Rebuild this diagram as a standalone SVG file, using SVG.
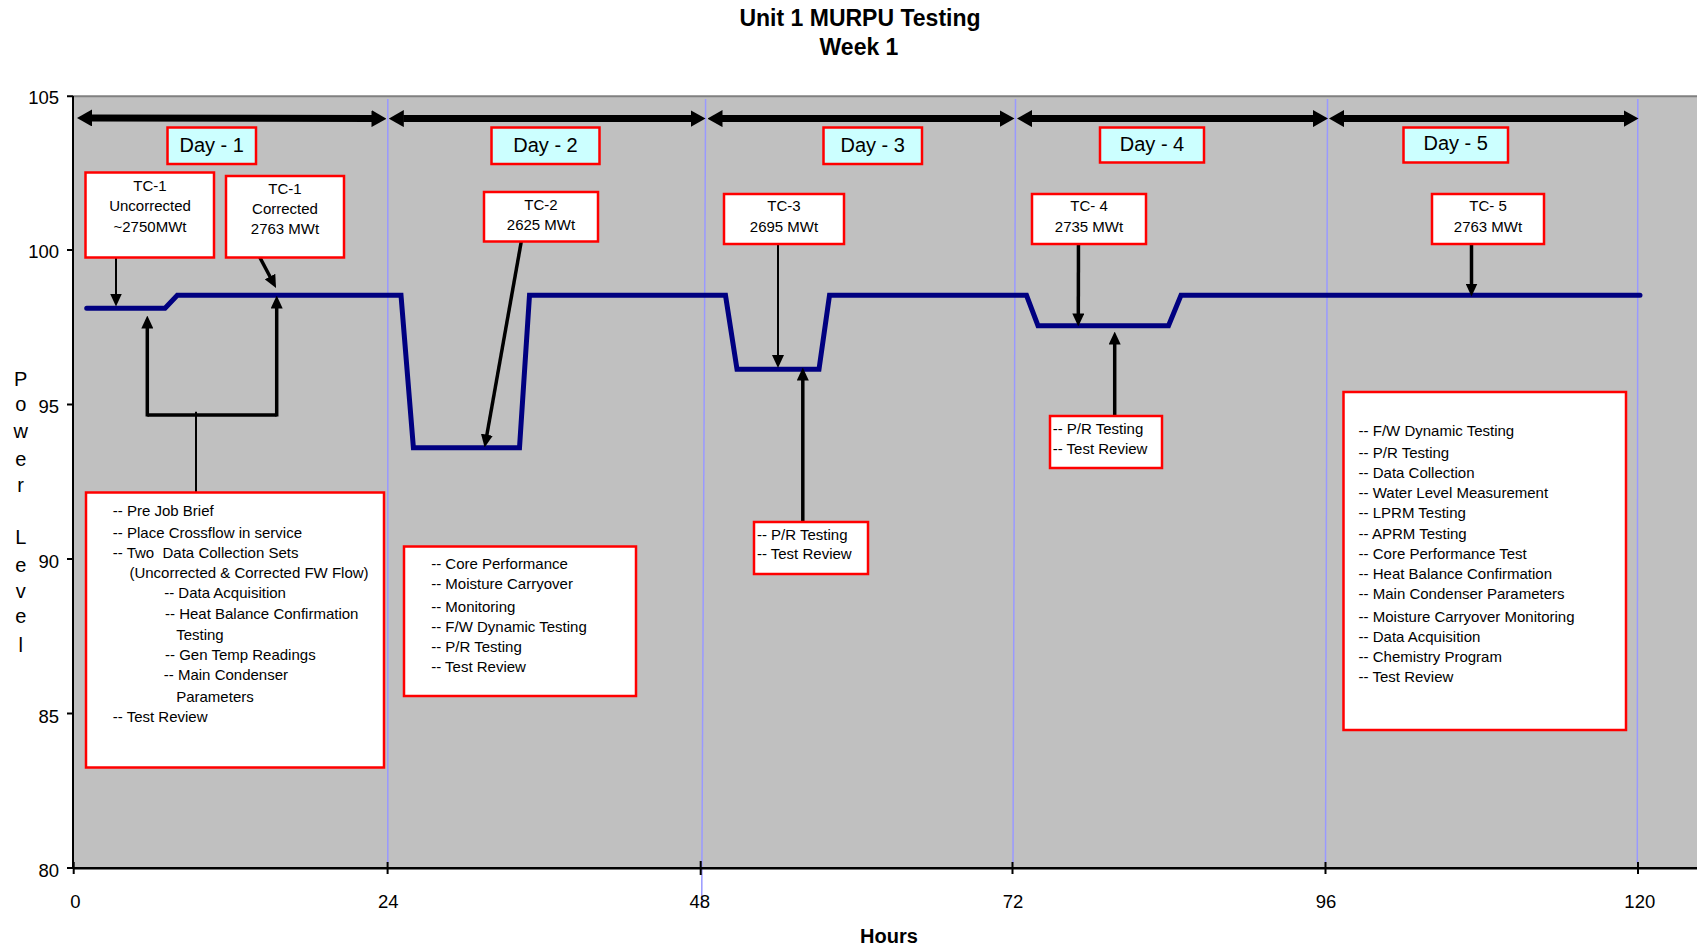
<svg xmlns="http://www.w3.org/2000/svg" width="1697" height="947" viewBox="0 0 1697 947">
<style>
text{font-family:"Liberation Sans",Arial,sans-serif;fill:#000}
.t{font-size:15px}
.c{text-anchor:middle}
.r{text-anchor:end}
.tick{font-size:18.5px}
.ttl{font-size:23px;font-weight:bold}
.dayt{font-size:20px}
.ylab{font-size:20px}
.box{fill:#fff;stroke:#f00;stroke-width:2.5}
.dbox{fill:#ccffff;stroke:#f00;stroke-width:2.5}
.grid{stroke:#9999ff;stroke-width:1.5;fill:none}
.ax{stroke:#000;stroke-width:2;fill:none}
.dbl{stroke:#000;stroke-width:7;fill:none;marker-start:url(#big);marker-end:url(#big)}
.thin{stroke:#000;stroke-width:2;fill:none}
.thick{stroke:#000;stroke-width:3.5;fill:none}
.arr{marker-end:url(#ah)}
</style>
<defs>
<marker id="big" markerUnits="userSpaceOnUse" markerWidth="15" markerHeight="17" viewBox="0 0 15 17" refX="0.5" refY="8.5" orient="auto-start-reverse"><path d="M0,0 L15,8.5 L0,17 z" fill="#000"/></marker>
<marker id="ah" markerUnits="userSpaceOnUse" markerWidth="13" markerHeight="12" viewBox="0 0 13 12" refX="0.5" refY="6" orient="auto"><path d="M0,0 L13,6 L0,12 z" fill="#000"/></marker>
</defs>
<rect width="1697" height="947" fill="#fff"/>
<g id="title">
<text class="ttl c" x="860" y="26">Unit 1 MURPU Testing</text>
<text class="ttl c" x="859" y="55">Week 1</text>
</g>
<g id="plot">
<rect x="73" y="96" width="1624" height="772" fill="#c0c0c0"/>
<line x1="73" y1="96.3" x2="1697" y2="96.3" stroke="#808080" stroke-width="2"/>
</g>
<g id="gridlines">
<line class="grid" x1="387.8" y1="99" x2="387.8" y2="863"/>
<line class="grid" x1="705.6" y1="99" x2="701.7" y2="908"/>
<line class="grid" x1="1015.5" y1="99" x2="1013" y2="863"/>
<line class="grid" x1="1327.5" y1="99" x2="1325.5" y2="863"/>
<line class="grid" x1="1637.8" y1="99" x2="1637.3" y2="863"/>
</g>
<g id="axes">
<line class="ax" x1="73" y1="96" x2="73" y2="869"/>
<line x1="73" y1="868.3" x2="1697" y2="868.3" stroke="#000" stroke-width="2.5"/>
<path class="ax" d="M67,96.3H73M67,250H73M67,404.5H73M67,559H73M67,713.5H73M67,868H73"/>
<path class="ax" d="M73.7,862V874M387.6,862V874M700.7,861V875M1012.5,862V874M1325.5,862V874M1638,862V874"/>
<text class="tick r" x="59" y="103.5">105</text>
<text class="tick r" x="59" y="258">100</text>
<text class="tick r" x="59" y="413">95</text>
<text class="tick r" x="59" y="567.5">90</text>
<text class="tick r" x="59" y="722.5">85</text>
<text class="tick r" x="59" y="877">80</text>
<text class="tick c" x="75.5" y="907.5">0</text>
<text class="tick c" x="388.3" y="907.5">24</text>
<text class="tick c" x="699.7" y="907.5">48</text>
<text class="tick c" x="1013" y="907.5">72</text>
<text class="tick c" x="1326" y="907.5">96</text>
<text class="tick c" x="1639.8" y="907.5">120</text>
<text class="c" x="889" y="943" font-size="20" font-weight="bold">Hours</text>
<g class="ylab">
<text class="c" x="20.7" y="386">P</text>
<text class="c" x="20.7" y="411">o</text>
<text class="c" x="20.7" y="437.7">w</text>
<text class="c" x="20.7" y="465.7">e</text>
<text class="c" x="20.7" y="491.7">r</text>
<text class="c" x="20.7" y="544.3">L</text>
<text class="c" x="20.7" y="571.7">e</text>
<text class="c" x="20.7" y="597.7">v</text>
<text class="c" x="20.7" y="623.3">e</text>
<text class="c" x="20.7" y="651.7">l</text>
</g>
</g>
<g id="power-line">
<polyline points="86.7,308.3 165,308.3 177.3,295.3 401,295.3 413.4,447.7 519.5,447.7 529.5,295.3 725.5,295.3 737,369.3 819,369.3 829.5,295.3 1026.5,295.3 1038,325.7 1168.5,325.7 1181,295.3 1640,295.3" fill="none" stroke="#000080" stroke-width="5" stroke-linecap="round" stroke-linejoin="miter"/>
</g>
<g id="connectors">
<line class="dbl" x1="91.5" y1="118" x2="372" y2="118.6"/>
<line class="dbl" x1="403.3" y1="118.6" x2="691" y2="118.6"/>
<line class="dbl" x1="722" y1="118.6" x2="1000" y2="118.6"/>
<line class="dbl" x1="1031.5" y1="118.6" x2="1313.5" y2="118.6"/>
<line class="dbl" x1="1343.5" y1="118.6" x2="1624" y2="118.6"/>
<line class="thin arr" x1="116" y1="248" x2="116" y2="294"/>
<line class="thick arr" x1="253.3" y1="245" x2="270.2" y2="277"/>
<path class="thick" d="M147.3,415H276.7"/>
<line class="thick arr" x1="147.3" y1="416.5" x2="147.3" y2="328"/>
<line class="thick arr" x1="276.7" y1="416.5" x2="276.7" y2="308"/>
<line class="thin" x1="196" y1="411.7" x2="196" y2="492.3"/>
<line class="thick arr" x1="522.7" y1="233.5" x2="486.8" y2="435.2"/>
<line class="thin arr" x1="778" y1="233" x2="778" y2="355.5"/>
<line class="thick arr" x1="802.8" y1="521.7" x2="802.8" y2="380"/>
<line class="thick arr" x1="1078.5" y1="235.7" x2="1078.3" y2="314"/>
<line class="thick arr" x1="1114.7" y1="416" x2="1114.7" y2="344"/>
<line class="thick arr" x1="1471.5" y1="237.3" x2="1471.5" y2="284"/>
</g>
<g id="day1-label"><rect class="dbox" x="167.5" y="127.5" width="88.5" height="36.5"/><text class="dayt c" x="211.7" y="151.5">Day - 1</text></g>
<g id="day2-label"><rect class="dbox" x="491.5" y="127.5" width="108" height="36.5"/><text class="dayt c" x="545.5" y="151.5">Day - 2</text></g>
<g id="day3-label"><rect class="dbox" x="823.5" y="127.5" width="98.5" height="36.5"/><text class="dayt c" x="872.7" y="151.5">Day - 3</text></g>
<g id="day4-label"><rect class="dbox" x="1100" y="127.5" width="104" height="35"/><text class="dayt c" x="1152" y="150.5">Day - 4</text></g>
<g id="day5-label"><rect class="dbox" x="1403.5" y="127.5" width="104.5" height="35"/><text class="dayt c" x="1455.7" y="150">Day - 5</text></g>
<g id="tc1-uncorrected"><rect class="box" x="85.5" y="172.5" width="128.5" height="85"/>
<text class="t c" x="150" y="190.5">TC-1</text><text class="t c" x="150" y="210.5">Uncorrected</text><text class="t c" x="150" y="232">~2750MWt</text></g>
<g id="tc1-corrected"><rect class="box" x="226" y="176" width="118" height="81.5"/>
<text class="t c" x="285" y="194.3">TC-1</text><text class="t c" x="285" y="214.3">Corrected</text><text class="t c" x="285" y="234.3">2763 MWt</text></g>
<g id="tc2"><rect class="box" x="484" y="192" width="114" height="49.5"/>
<text class="t c" x="541" y="210">TC-2</text><text class="t c" x="541" y="230">2625 MWt</text></g>
<g id="tc3"><rect class="box" x="724" y="194" width="120" height="50"/>
<text class="t c" x="784" y="210.5">TC-3</text><text class="t c" x="784" y="231.7">2695 MWt</text></g>
<g id="tc4"><rect class="box" x="1032" y="194" width="114" height="50"/>
<text class="t c" x="1089" y="210.5">TC- 4</text><text class="t c" x="1089" y="231.7">2735 MWt</text></g>
<g id="tc5"><rect class="box" x="1432" y="194" width="112" height="50"/>
<text class="t c" x="1488" y="210.5">TC- 5</text><text class="t c" x="1488" y="231.7">2763 MWt</text></g>
<g id="day1-tasks"><rect class="box" x="86" y="492.5" width="298" height="275"/>
<text class="t" x="112.8" y="516">-- Pre Job Brief</text>
<text class="t" x="112.8" y="537.7">-- Place Crossflow in service</text>
<text class="t" x="112.8" y="557.7">-- Two&#160; Data Collection Sets</text>
<text class="t" x="129.4" y="577.7">(Uncorrected &amp; Corrected FW Flow)</text>
<text class="t" x="164.2" y="597.7">-- Data Acquisition</text>
<text class="t" x="165" y="619.3">-- Heat Balance Confirmation</text>
<text class="t" x="176.2" y="640">Testing</text>
<text class="t" x="165" y="660">-- Gen Temp Readings</text>
<text class="t" x="163.8" y="680">-- Main Condenser</text>
<text class="t" x="176.2" y="701.7">Parameters</text>
<text class="t" x="112.8" y="721.7">-- Test Review</text>
</g>
<g id="day2-tasks"><rect class="box" x="404" y="546.5" width="232" height="149.5"/>
<text class="t" x="431.2" y="569.3">-- Core Performance</text>
<text class="t" x="431.2" y="589.3">-- Moisture Carryover</text>
<text class="t" x="431.2" y="611.7">-- Monitoring</text>
<text class="t" x="431.2" y="631.7">-- F/W Dynamic Testing</text>
<text class="t" x="431.2" y="651.7">-- P/R Testing</text>
<text class="t" x="431.2" y="671.7">-- Test Review</text>
</g>
<g id="day3-tasks"><rect class="box" x="754" y="522" width="114" height="52"/>
<text class="t" x="756.9" y="540">-- P/R Testing</text>
<text class="t" x="756.9" y="559.3">-- Test Review</text>
</g>
<g id="day4-tasks"><rect class="box" x="1050" y="416" width="112" height="52"/>
<text class="t" x="1052.7" y="434">-- P/R Testing</text>
<text class="t" x="1052.7" y="454">-- Test Review</text>
</g>
<g id="day5-tasks"><rect class="box" x="1343.5" y="392" width="282.5" height="338"/>
<text class="t" x="1358.6" y="436">-- F/W Dynamic Testing</text>
<text class="t" x="1358.6" y="457.7">-- P/R Testing</text>
<text class="t" x="1358.6" y="477.7">-- Data Collection</text>
<text class="t" x="1358.6" y="497.7">-- Water Level Measurement</text>
<text class="t" x="1358.6" y="517.7">-- LPRM Testing</text>
<text class="t" x="1358.6" y="539.3">-- APRM Testing</text>
<text class="t" x="1358.6" y="559.3">-- Core Performance Test</text>
<text class="t" x="1358.6" y="579.3">-- Heat Balance Confirmation</text>
<text class="t" x="1358.6" y="599.3">-- Main Condenser Parameters</text>
<text class="t" x="1358.6" y="621.7">-- Moisture Carryover Monitoring</text>
<text class="t" x="1358.6" y="641.7">-- Data Acquisition</text>
<text class="t" x="1358.6" y="661.7">-- Chemistry Program</text>
<text class="t" x="1358.6" y="681.7">-- Test Review</text>
</g>
</svg>
